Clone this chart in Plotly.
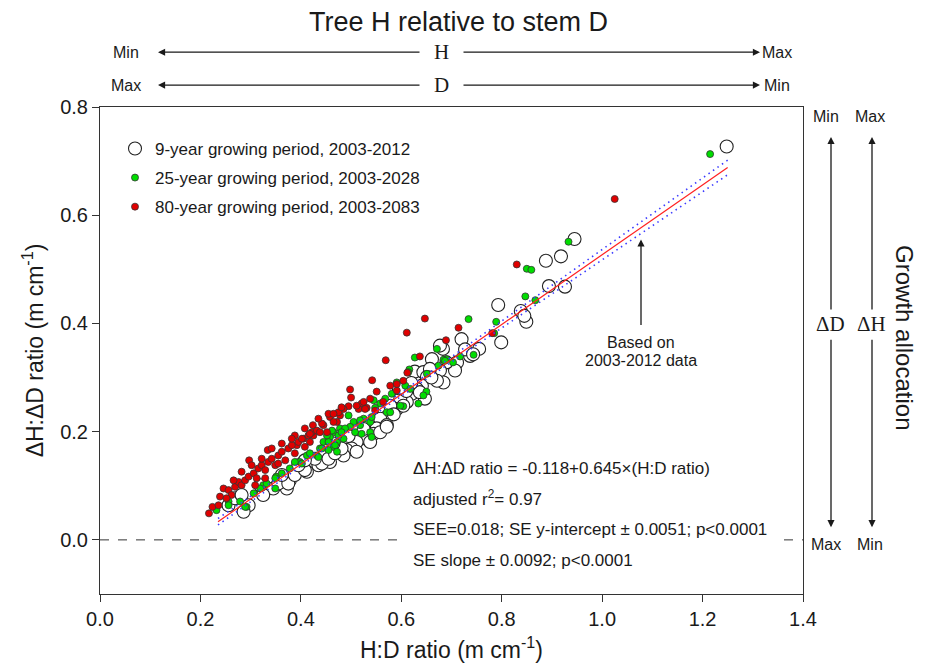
import plotly.graph_objects as go

# ---------------- data ----------------
white_x = [1.248, 0.945, 0.918, 0.888, 0.894, 0.926, 0.793, 0.838, 0.849, 0.845, 0.799, 0.720, 0.755, 0.737,
           0.711, 0.683, 0.707, 0.727, 0.743, 0.677, 0.661, 0.690, 0.627, 0.644, 0.677, 0.657, 0.651, 0.641,
           0.647, 0.631, 0.621, 0.611, 0.598, 0.591, 0.578, 0.571, 0.558, 0.551, 0.545, 0.531, 0.521, 0.511,
           0.501, 0.491, 0.485, 0.558, 0.571, 0.684, 0.671, 0.637, 0.604, 0.571, 0.538, 0.511, 0.458, 0.435,
           0.412, 0.378, 0.372, 0.345, 0.325, 0.296, 0.286, 0.256, 0.269, 0.282, 0.319, 0.355, 0.375, 0.362,
           0.388, 0.408, 0.395, 0.442, 0.455, 0.428, 0.468, 0.481, 0.408, 0.465, 0.495, 0.525, 0.585, 0.610,
           0.595, 0.620, 0.660]
white_y = [0.727, 0.556, 0.524, 0.516, 0.469, 0.468, 0.434, 0.423, 0.403, 0.414, 0.365, 0.371, 0.353, 0.340,
           0.328, 0.353, 0.313, 0.352, 0.343, 0.359, 0.334, 0.328, 0.311, 0.310, 0.313, 0.316, 0.301, 0.285,
           0.261, 0.279, 0.270, 0.255, 0.261, 0.242, 0.248, 0.227, 0.224, 0.206, 0.196, 0.187, 0.190, 0.181,
           0.169, 0.166, 0.156, 0.199, 0.212, 0.291, 0.294, 0.273, 0.248, 0.209, 0.181, 0.163, 0.144, 0.138,
           0.126, 0.110, 0.095, 0.095, 0.083, 0.064, 0.052, 0.064, 0.077, 0.083, 0.101, 0.104, 0.104, 0.120,
           0.120, 0.129, 0.138, 0.141, 0.150, 0.150, 0.160, 0.169, 0.147, 0.178, 0.192, 0.205, 0.232, 0.275,
           0.280, 0.290, 0.300]

green_x = [1.215, 0.933, 0.850, 0.859, 0.847, 0.867, 0.734, 0.789, 0.785, 0.744, 0.690, 0.671, 0.627, 0.684,
           0.703, 0.717, 0.674, 0.651, 0.616, 0.614, 0.591, 0.608, 0.618, 0.650, 0.581, 0.568, 0.558, 0.545,
           0.548, 0.604, 0.571, 0.525, 0.538, 0.518, 0.505, 0.495, 0.508, 0.498, 0.478, 0.465, 0.458, 0.445,
           0.472, 0.485, 0.465, 0.455, 0.472, 0.438, 0.432, 0.538, 0.541, 0.521, 0.687, 0.578, 0.598, 0.541,
           0.518, 0.488, 0.412, 0.398, 0.378, 0.351, 0.349, 0.325, 0.256, 0.232, 0.292, 0.634, 0.644, 0.256,
           0.279, 0.289, 0.306, 0.319, 0.332, 0.349, 0.362, 0.388, 0.402, 0.418, 0.435, 0.442, 0.455, 0.468,
           0.475, 0.481, 0.462, 0.452]
green_y = [0.713, 0.551, 0.501, 0.499, 0.450, 0.443, 0.408, 0.403, 0.382, 0.342, 0.334, 0.353, 0.337, 0.333,
           0.328, 0.339, 0.322, 0.307, 0.315, 0.310, 0.291, 0.285, 0.279, 0.274, 0.270, 0.261, 0.252, 0.258,
           0.244, 0.247, 0.236, 0.224, 0.218, 0.212, 0.218, 0.230, 0.199, 0.209, 0.206, 0.199, 0.190, 0.181,
           0.181, 0.187, 0.172, 0.166, 0.163, 0.169, 0.156, 0.199, 0.190, 0.196, 0.331, 0.236, 0.248, 0.227,
           0.221, 0.206, 0.156, 0.144, 0.132, 0.117, 0.095, 0.101, 0.071, 0.055, 0.061, 0.252, 0.267, 0.064,
           0.071, 0.061, 0.086, 0.095, 0.104, 0.114, 0.123, 0.144, 0.141, 0.160, 0.153, 0.169, 0.181, 0.175,
           0.193, 0.199, 0.202, 0.193]

red_x = [1.025, 0.830, 0.714, 0.689, 0.781, 0.647, 0.611, 0.637, 0.612, 0.569, 0.542, 0.498, 0.500, 0.424,
         0.551, 0.538, 0.521, 0.531, 0.515, 0.495, 0.485, 0.478, 0.458, 0.472, 0.445, 0.452, 0.425, 0.405,
         0.418, 0.392, 0.591, 0.604, 0.297, 0.334, 0.217, 0.224, 0.239, 0.246, 0.256, 0.262, 0.269, 0.276,
         0.282, 0.289, 0.296, 0.306, 0.312, 0.315, 0.322, 0.329, 0.335, 0.342, 0.349, 0.355, 0.362, 0.369,
         0.375, 0.382, 0.388, 0.395, 0.402, 0.408, 0.415, 0.422, 0.432, 0.442, 0.465, 0.475, 0.481, 0.282,
         0.266, 0.252, 0.236, 0.342, 0.362, 0.388, 0.382, 0.322, 0.302, 0.408, 0.435, 0.455, 0.355, 0.329,
         0.309, 0.511, 0.525, 0.528, 0.548, 0.564, 0.578, 0.591, 0.465, 0.438, 0.418]
red_y = [0.630, 0.509, 0.392, 0.369, 0.382, 0.409, 0.383, 0.339, 0.309, 0.332, 0.295, 0.278, 0.263, 0.212,
         0.274, 0.261, 0.252, 0.244, 0.242, 0.247, 0.242, 0.230, 0.227, 0.218, 0.212, 0.199, 0.193, 0.187,
         0.181, 0.175, 0.276, 0.294, 0.147, 0.166, 0.049, 0.061, 0.080, 0.095, 0.092, 0.083, 0.098, 0.107,
         0.101, 0.110, 0.117, 0.123, 0.114, 0.132, 0.138, 0.129, 0.144, 0.150, 0.138, 0.156, 0.163, 0.147,
         0.169, 0.175, 0.160, 0.181, 0.187, 0.172, 0.193, 0.199, 0.202, 0.215, 0.218, 0.236, 0.245, 0.126,
         0.110, 0.077, 0.064, 0.169, 0.178, 0.193, 0.187, 0.150, 0.138, 0.206, 0.224, 0.233, 0.141, 0.114,
         0.101, 0.248, 0.255, 0.242, 0.239, 0.255, 0.285, 0.288, 0.233, 0.199, 0.196]

series_names = ["9-year growing period, 2003-2012",
                "25-year growing period, 2003-2028",
                "80-year growing period, 2003-2083"]

# regression (from the printed equation) and its confidence band
fit_intercept = -0.118
fit_slope = 0.645
fit_x = [0.235, 1.25]
band_x = [0.235, 0.35, 0.50, 0.65, 0.80, 0.95, 1.10, 1.25]
band_half = [0.006, 0.004, 0.0025, 0.004, 0.0065, 0.009, 0.011, 0.0135]

x_ticks = [0.0, 0.2, 0.4, 0.6, 0.8, 1.0, 1.2, 1.4]
y_ticks = [0.0, 0.2, 0.4, 0.6, 0.8]

# ---------------- layout helpers ----------------
OFF = 8                      # browser default body margin
W, H = 931 - OFF, 670 - OFF  # figure size so that the page fits the window
PL, PR, PT, PB = 100, 803, 107, 596   # plot box in window pixels
def pxx(x):
    return (x - PL) / (PR - PL)
def pxy(y):
    return (PB - y) / (PB - PT)

SANS = "Liberation Sans, Arial, sans-serif"
SERIF = "Liberation Serif, Times New Roman, serif"
INK = "#1a1a1a"

fig = go.Figure()

fig.add_trace(go.Scatter(
    x=white_x, y=white_y, mode="markers", name=series_names[0], legendgroup="a",
    marker=dict(size=13, color="white", line=dict(color="#222", width=1.1))))
fig.add_trace(go.Scatter(
    x=green_x, y=green_y, mode="markers", name=series_names[1], legendgroup="b",
    marker=dict(size=7, color="#00dd00", line=dict(color="#333", width=0.8))))
fig.add_trace(go.Scatter(
    x=red_x, y=red_y, mode="markers", name=series_names[2], legendgroup="c",
    marker=dict(size=7, color="#e00000", line=dict(color="#333", width=0.8))))

fit_y = [fit_intercept + fit_slope * v for v in fit_x]
band_mid = [fit_intercept + fit_slope * v for v in band_x]
band_up = [m + h for m, h in zip(band_mid, band_half)]
band_lo = [m - h for m, h in zip(band_mid, band_half)]
for by in (band_up, band_lo):
    fig.add_trace(go.Scatter(x=band_x, y=by, mode="lines", showlegend=False, hoverinfo="skip",
                             line=dict(color="#3b3bff", width=1.6, dash="1.5px,4px")))
fig.add_trace(go.Scatter(x=fit_x, y=fit_y, mode="lines", showlegend=False, hoverinfo="skip",
                         line=dict(color="#ff2020", width=1.2)))

shapes = [
    dict(type="line", xref="x", yref="y", x0=0, x1=1.4, y0=0, y1=0,
         line=dict(color="#333", width=1, dash="dash"), layer="above"),
    dict(type="rect", xref="paper", yref="paper", x0=pxx(400), x1=pxx(783), y0=pxy(578), y1=pxy(455),
         fillcolor="white", line=dict(width=0), layer="above"),
]

ann = []
def text(x, y, s, size=15, family=SANS, **kw):
    d = dict(xref="paper", yref="paper", x=pxx(x), y=pxy(y), text=s, showarrow=False,
             font=dict(size=size, family=family, color=INK), xanchor="center", yanchor="middle")
    d.update(kw)
    ann.append(d)

def arrow(x_tip, y_tip, x_tail, y_tail):
    ann.append(dict(xref="paper", yref="paper", x=pxx(x_tip), y=pxy(y_tip), ax=x_tail - x_tip,
                    ay=y_tail - y_tip, axref="pixel", ayref="pixel", text="", showarrow=True,
                    arrowhead=2, arrowsize=1.1, arrowwidth=1.3, arrowcolor=INK))

# top title and H / D arrows
text(458, 22, "Tree H relative to stem D", size=27)
for yy, left, mid, right in [(52, "Min", "H", "Max"), (85, "Max", "D", "Min")]:
    text(126, yy, left, size=16)
    text(441, yy, mid, size=21, family=SERIF)
    text(777, yy, right, size=16)
    arrow(158, yy, 421, yy)
    arrow(760, yy, 462, yy)

# right side growth allocation
text(826, 117, "Min", size=16)
text(870, 117, "Max", size=16)
text(826, 546, "Max", size=16)
text(870, 546, "Min", size=16)
text(830, 325, "ΔD", size=21, family=SERIF)
text(872, 325, "ΔH", size=21, family=SERIF)
for xx in (831, 872):
    arrow(xx, 137, xx, 311)
    arrow(xx, 529, xx, 340)
text(905, 338, "Growth allocation", size=24, textangle=90)

# "Based on" arrow
arrow(641, 240, 641, 327)
text(641, 343, "Based on", size=16)
text(641, 362, "2003-2012 data", size=16)

# statistics block
stats = ["ΔH:ΔD ratio = -0.118+0.645×(H:D ratio)",
         "adjusted r<sup>2</sup>= 0.97",
         "SEE=0.018; SE y-intercept ± 0.0051; p<0.0001",
         "SE slope ± 0.0092; p<0.0001"]
for s, yy in zip(stats, [470, 500, 531, 562]):
    text(411, yy, s, size=17, xanchor="left")

fig.update_layout(
    width=W, height=H,
    margin=dict(l=PL - OFF, r=W + OFF - PR, t=PT - OFF, b=H + OFF - PB),
    paper_bgcolor="white", plot_bgcolor="white",
    font=dict(family=SANS, color=INK),
    shapes=shapes, annotations=ann,
    showlegend=True,
    legend=dict(x=pxx(115), y=pxy(131), xanchor="left", yanchor="top", bgcolor="rgba(0,0,0,0)",
                font=dict(size=17, family=SANS, color=INK), tracegroupgap=4, traceorder="grouped",
                itemsizing="trace"),
    xaxis=dict(range=[0, 1.4], tickvals=x_ticks, tickformat=".1f", ticks="outside", ticklen=7,
               tickcolor="#333", showline=True, linecolor="#333", linewidth=1, mirror=True,
               showgrid=False, zeroline=False, tickfont=dict(size=20, family=SANS, color=INK),
               title=dict(text="H:D ratio (m cm<sup>-1</sup>)", font=dict(size=23, family=SANS, color=INK),
                          standoff=12)),
    yaxis=dict(range=[-0.1, 0.8], tickvals=y_ticks, tickformat=".1f", ticks="outside", ticklen=7,
               tickcolor="#333", showline=True, linecolor="#333", linewidth=1, mirror=True,
               showgrid=False, zeroline=False, tickfont=dict(size=20, family=SANS, color=INK),
               title=dict(text="ΔH:ΔD ratio (m cm<sup>-1</sup>)", font=dict(size=23, family=SANS, color=INK),
                          standoff=10)),
)

fig.write_html("out.html")
